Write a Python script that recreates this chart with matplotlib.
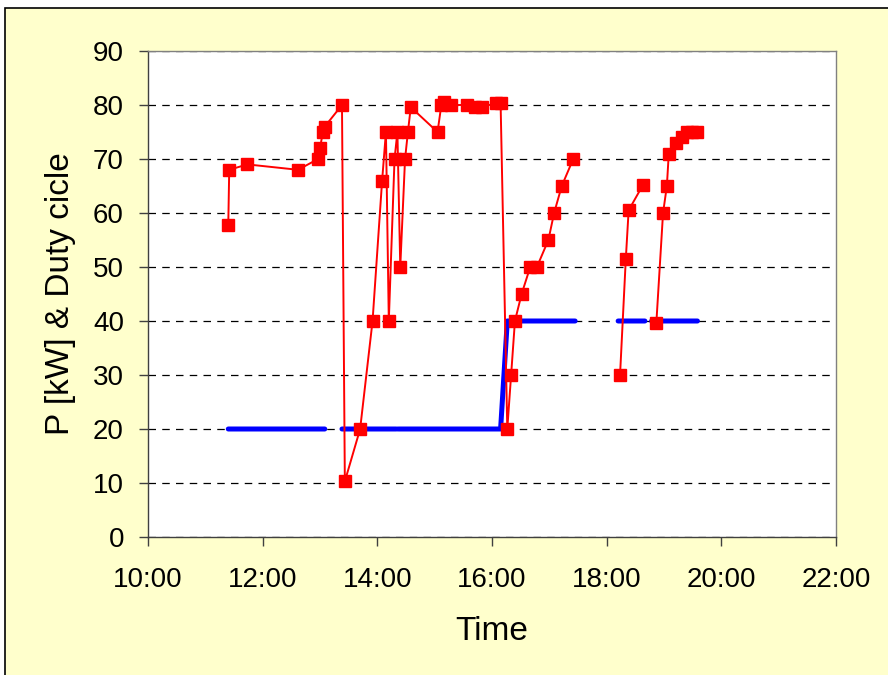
import numpy as np
import matplotlib
matplotlib.use("Agg")
import matplotlib.pyplot as plt
from matplotlib.patches import Rectangle
from matplotlib.ticker import FuncFormatter, MultipleLocator

plt.rcParams['font.family'] = ['Liberation Sans', 'DejaVu Sans']

# Power readings (red squares); None marks a break in the line
p_times = ["11:24", "11:25", "11:44", "12:37", "12:58", "13:00", "13:03", "13:05",
           "13:23", "13:26", "13:42", "13:55", "14:05", "14:09", "14:12", "14:18",
           "14:21", "14:24", "14:29", "14:32", "14:35", "15:03", "15:07", "15:10",
           "15:17", "15:34", "15:42", "15:50", "16:04", "16:09", "16:16", "16:20",
           "16:24", "16:31", "16:40", "16:47", "16:59", "17:05", "17:13", "17:25",
           None,
           "18:14", "18:20", "18:23", "18:38",
           None,
           "18:52", "18:59", "19:03", "19:05", "19:13", "19:19", "19:24", "19:29", "19:35"]
p_values = [57.7, 68, 69, 68, 70, 72, 75, 76,
            80, 10.3, 20, 40, 66, 75, 40, 70,
            75, 50, 70, 75, 79.6, 75, 80, 80.6,
            80, 80, 79.7, 79.7, 80.3, 80.3, 20, 30,
            40, 45, 50, 50, 55, 60, 65, 70,
            None,
            30, 51.4, 60.5, 65.2,
            None,
            39.7, 60, 65, 71, 73, 74, 75, 75, 75]

# Duty cycle (blue line)
d_times = ["11:24", "13:05", None, "13:23", "14:20", None, "14:22", "16:09", "16:16",
           "17:27", None, "18:12", "18:40", None, "18:47", "19:35"]
d_values = [20, 20, None, 20, 20, None, 20, 20, 40,
            40, None, 40, 40, None, 40, 40]

y_ticks = np.arange(0, 91, 10)


def to_hours(t):
    if t is None:
        return np.nan
    h, m = t.split(":")
    return int(h) + int(m) / 60.0


def to_val(v):
    return np.nan if v is None else v


px = np.array([to_hours(t) for t in p_times])
py = np.array([to_val(v) for v in p_values])
dx = np.array([to_hours(t) for t in d_times])
dy = np.array([to_val(v) for v in d_values])

fig = plt.figure(figsize=(8.88, 6.75), dpi=100)
fig.patch.set_facecolor("white")
bg = Rectangle((5 / 888, -0.01), 1.0, 1 - 8 / 675 + 0.01,
               transform=fig.transFigure, facecolor="#FFFFCC",
               edgecolor="black", linewidth=1.2, zorder=-5)
fig.add_artist(bg)

ax = fig.add_axes([148 / 888, 1 - 537 / 675, 688 / 888, 486 / 675])
ax.set_zorder(1)
ax.set_facecolor("white")

ax.plot(dx, dy, color="#0000FF", linewidth=3.6, solid_capstyle="round", zorder=3)
ax.plot(px, py, color="#FF0000", linewidth=1.4, marker="s", markersize=8.5,
        markeredgecolor="#FF0000", zorder=4)

ax.set_xlim(10, 22)
ax.set_ylim(0, 90)
ax.xaxis.set_major_locator(MultipleLocator(2))
ax.xaxis.set_major_formatter(FuncFormatter(lambda v, pos: f"{int(round(v)):02d}:00"))
ax.set_yticks(y_ticks)

ax.grid(axis="y", color="black", linestyle=(0, (6, 5)), linewidth=0.9)
ax.set_axisbelow(True)
for s in ax.spines.values():
    s.set_color("#808080")
    s.set_linewidth(1.0)
ax.spines["bottom"].set_color("#404040")
ax.spines["left"].set_color("#404040")

ax.tick_params(axis="both", direction="out", length=6.3, width=1, color="#404040",
               labelsize=20)
ax.tick_params(axis="y", pad=11)
ax.tick_params(axis="x", pad=15)

ax.set_xlabel("Time", fontsize=24, labelpad=17)
ax.set_ylabel("P [kW] & Duty cicle", fontsize=24, labelpad=12)

fig.savefig("out.png", dpi=100)
